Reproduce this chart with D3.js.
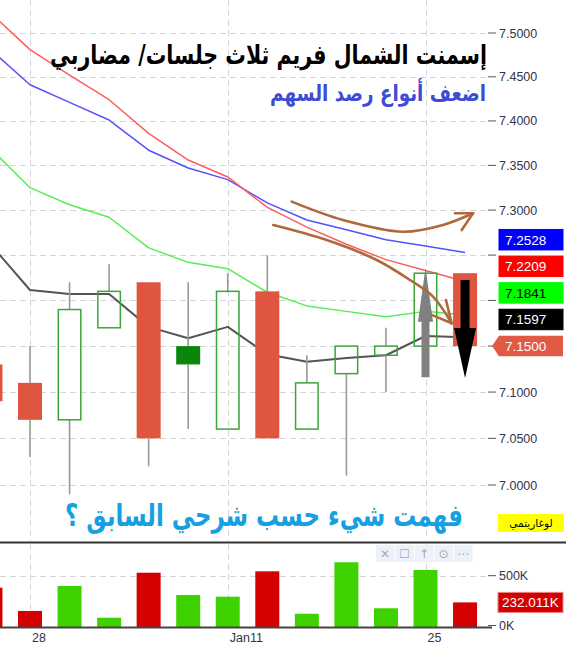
<!DOCTYPE html>
<html>
<head>
<meta charset="utf-8">
<script src="https://cdn.jsdelivr.net/npm/d3@7"></script>
<style>
html, body { margin: 0; padding: 0; background: #fff; }
svg { display: block; }
</style>
</head>
<body>
<div id="chart"></div>
<script>
// 3-session candles, index 0 is the one cut off at the left edge
var tickLabels = ["", "28", "", "", "", "", "Jan11", "", "", "", "", "25", ""];
var opens   = [7.13, 7.11, 7.07, 7.17, 7.22, 7.15, 7.06, 7.21, 7.06, 7.12, 7.14, 7.15, 7.23];
var highs   = [7.14, 7.15, 7.22, 7.24, 7.22, 7.22, 7.23, 7.25, 7.14, 7.15, 7.17, 7.23, 7.23];
var lows    = [7.08, 7.03, 6.99, 7.17, 7.02, 7.06, 7.06, 7.05, 7.06, 7.01, 7.10, 7.15, 7.15];
var closes  = [7.09, 7.07, 7.19, 7.21, 7.05, 7.13, 7.21, 7.05, 7.11, 7.15, 7.15, 7.23, 7.15];
var volumes = [380, 146, 397, 78, 530, 306, 289, 544, 118, 635, 173, 557, 232.011]; // in K

// moving averages
var maBlack = [7.262, 7.2115, 7.207, 7.207, 7.171, 7.1585, 7.171, 7.141, 7.133, 7.137, 7.140, 7.161, 7.1597];
var maGreen = [7.369, 7.325, 7.306, 7.292, 7.258, 7.242, 7.235, 7.209, 7.194, 7.188, 7.182, 7.188, 7.1841];
var maRed   = [7.523, 7.481, 7.452, 7.424, 7.386, 7.356, 7.337, 7.303, 7.281, 7.262, 7.245, 7.233, 7.2209];
var maBlue  = [7.481, 7.441, 7.421, 7.401, 7.367, 7.347, 7.334, 7.308, 7.289, 7.278, 7.267, 7.260, 7.2528];

var priceTicks  = [7.0, 7.05, 7.1, 7.15, 7.2, 7.25, 7.3, 7.35, 7.4, 7.45, 7.5];
var volumeTicks = [0, 500];

// hand drawn annotations, in [candle index, price]
var arrowTop    = [[7.617, 7.3094], [8.914, 7.2889], [10.431, 7.2759], [11.443, 7.2834], [12.201, 7.2964]];
var arrowTopBarbs = [[11.746, 7.2964], [11.915, 7.2778]];
var arrowLow    = [[7.152, 7.2834], [8.502, 7.2667], [9.766, 7.2446], [10.608, 7.2225], [11.190, 7.2042], [11.662, 7.1749]];
var arrowLowBarbs = [[11.518, 7.2005], [11.157, 7.1841]];

var width = 566, height = 669;
var plotRight = 490;
var mainBottom = 541, volTop = 544;

var svg = d3.select("#chart").append("svg")
    .attr("width", width).attr("height", height);

var x = d3.scaleLinear().domain([1, 11]).range([30, 425.5]);
var y = d3.scaleLog().domain([7.0, 7.5]).range([485, 33]);
var yVol = d3.scaleLinear().domain([0, 500]).range([625.5, 575.7]);

var upColor = "#3aa53a", downGreen = "#0a870a", redColor = "#e05540";
var fmt4 = d3.format(".4f");

var defs = svg.append("defs");
defs.append("clipPath").attr("id", "clipMain").append("rect")
    .attr("x", 0).attr("y", 0).attr("width", plotRight).attr("height", mainBottom);
defs.append("clipPath").attr("id", "clipVol").append("rect")
    .attr("x", 0).attr("y", volTop).attr("width", plotRight).attr("height", 627 - volTop);

var idx = d3.range(opens.length);
var last = opens.length - 1;

// last value badges on the price axis
var badges = [
    { v: maBlue[last], fill: "#0000ff", text: "#fff" },
    { v: maRed[last], fill: "#ff0000", text: "#fff" },
    { v: maGreen[last], fill: "#00ff00", text: "#000" },
    { v: maBlack[last], fill: "#000000", text: "#fff" },
    { v: closes[last], fill: "#e05a45", text: "#fff", pointer: true }
];
var badgeH = 20.5, badgeGap = 26.6;
// stack upward from the last price so they don't overlap
var badgePos = [];
for (var k = badges.length - 1; k >= 0; k--) {
    var want = y(badges[k].v);
    badgePos[k] = k === badges.length - 1 ? want : Math.min(want, badgePos[k + 1] - badgeGap);
}

/**
 * grid lines for both panes
 */
function drawGrid() {
    var g = svg.append("g").attr("class", "grid")
        .attr("stroke", "#d6d6d6").attr("stroke-dasharray", "6,4").attr("stroke-width", 1);
    g.selectAll("line.h").data(priceTicks).enter().append("line").attr("class", "h")
        .attr("x1", 0).attr("x2", plotRight - 2)
        .attr("y1", function (d) { return Math.round(y(d)) + 0.5; })
        .attr("y2", function (d) { return Math.round(y(d)) + 0.5; });
    g.append("line")
        .attr("x1", 0).attr("x2", plotRight - 2)
        .attr("y1", Math.round(yVol(500)) + 0.5).attr("y2", Math.round(yVol(500)) + 0.5);
    var vx = idx.filter(function (i) { return tickLabels[i] !== ""; });
    g.selectAll("line.v").data(vx).enter().append("line").attr("class", "v")
        .attr("x1", function (i) { return Math.round(x(i)) + 0.5; })
        .attr("x2", function (i) { return Math.round(x(i)) + 0.5; })
        .attr("y1", 0).attr("y2", mainBottom);
    g.selectAll("line.v2").data(vx).enter().append("line").attr("class", "v2")
        .attr("x1", function (i) { return Math.round(x(i)) + 0.5; })
        .attr("x2", function (i) { return Math.round(x(i)) + 0.5; })
        .attr("y1", volTop).attr("y2", 627);
}

function drawMA(values, color, w) {
    var line = d3.line()
        .x(function (d, i) { return x(i); })
        .y(function (d) { return y(d); });
    svg.append("path").attr("clip-path", "url(#clipMain)")
        .attr("d", line(values))
        .attr("fill", "none").attr("stroke", color).attr("stroke-width", w)
        .attr("stroke-linejoin", "round");
}

/**
 * hollow candles: hollow when close > open,
 * green when close >= previous close
 */
function drawCandles() {
    var g = svg.append("g").attr("clip-path", "url(#clipMain)");
    var bw = 24;
    idx.forEach(function (i) {
        var o = opens[i], c = closes[i];
        var prev = i > 0 ? closes[i - 1] : 7.2;
        var up = c >= prev;
        var hollow = c > o;
        var top = y(Math.max(o, c)), bot = y(Math.min(o, c));
        var cx = x(i);
        if (highs[i] > Math.max(o, c)) {
            g.append("line").attr("x1", cx).attr("x2", cx)
                .attr("y1", y(highs[i])).attr("y2", top)
                .attr("stroke", "#9a9a9a").attr("stroke-width", 1.6);
        }
        if (lows[i] < Math.min(o, c)) {
            g.append("line").attr("x1", cx).attr("x2", cx)
                .attr("y1", bot).attr("y2", y(lows[i]))
                .attr("stroke", "#9a9a9a").attr("stroke-width", 1.6);
        }
        var col = up ? (hollow ? upColor : downGreen) : redColor;
        if (hollow) {
            g.append("rect").attr("x", cx - bw / 2 + 0.75).attr("y", top)
                .attr("width", bw - 1.5).attr("height", bot - top)
                .attr("fill", "none").attr("stroke", col).attr("stroke-width", 1.5);
        } else {
            g.append("rect").attr("x", cx - bw / 2).attr("y", top)
                .attr("width", bw).attr("height", Math.max(1, bot - top))
                .attr("fill", col);
        }
    });
}

function drawVolume() {
    var g = svg.append("g").attr("clip-path", "url(#clipVol)");
    g.selectAll("rect").data(volumes).enter().append("rect")
        .attr("x", function (d, i) { return x(i) - 12; })
        .attr("width", 24)
        .attr("y", function (d) { return yVol(d); })
        .attr("height", function (d) { return 627 - yVol(d); })
        .attr("fill", function (d, i) { return closes[i] >= (i > 0 ? closes[i - 1] : 7.2) ? "#3ed200" : "#d50000"; });
    // baseline
    svg.append("line").attr("x1", 0).attr("x2", plotRight + 2)
        .attr("y1", 627.5).attr("y2", 627.5)
        .attr("stroke", "#444").attr("stroke-width", 2);
}

function coveredByBadge(py) {
    return badgePos.some(function (b) { return Math.abs(b - py) < badgeH / 2 + 5; });
}

function drawAxes() {
    var g = svg.append("g").attr("font-family", "Liberation Sans, Arial, sans-serif")
        .attr("font-size", 12.5).attr("fill", "#33334a");
    priceTicks.forEach(function (t) {
        g.append("line").attr("x1", plotRight - 2).attr("x2", plotRight + 6)
            .attr("y1", y(t)).attr("y2", y(t)).attr("stroke", "#555").attr("stroke-width", 1);
        // labels under the value badges are hidden by them
        if (coveredByBadge(y(t))) return;
        g.append("text").attr("x", 499).attr("y", y(t)).attr("dy", "0.36em").text(fmt4(t));
    });
    volumeTicks.forEach(function (t) {
        g.append("line").attr("x1", plotRight - 2).attr("x2", plotRight + 6)
            .attr("y1", yVol(t)).attr("y2", yVol(t)).attr("stroke", "#555").attr("stroke-width", 1);
        g.append("text").attr("x", 499).attr("y", yVol(t)).attr("dy", "0.36em").text(t + "K");
    });
    idx.forEach(function (i) {
        if (tickLabels[i] === "") return;
        g.append("text").attr("x", x(i) + 2).attr("y", 637).attr("dy", "0.36em").text(tickLabels[i]);
    });
    // pane separator
    svg.append("line").attr("x1", 0).attr("x2", width).attr("y1", 542.5).attr("y2", 542.5)
        .attr("stroke", "#333").attr("stroke-width", 2.2);
}

function drawBadges() {
    var h = badgeH;
    var g = svg.append("g").attr("font-family", "Liberation Sans, Arial, sans-serif").attr("font-size", 13.5);
    badges.forEach(function (b, k) {
        var cy = badgePos[k];
        if (b.pointer) {
            g.append("path")
                .attr("d", "M492," + cy + "L499," + (cy - h / 2) + "L563," + (cy - h / 2) +
                    "L563," + (cy + h / 2) + "L499," + (cy + h / 2) + "Z")
                .attr("fill", b.fill);
        } else {
            g.append("rect").attr("x", 499).attr("y", cy - h / 2).attr("width", 64).attr("height", h)
                .attr("fill", b.fill).attr("stroke", d3.color(b.fill).brighter(0.6)).attr("stroke-width", 1);
        }
        g.append("text").attr("x", 505).attr("y", cy).attr("dy", "0.36em")
            .attr("fill", b.text).text(fmt4(b.v));
    });
    // volume badge
    var vl = volumes[volumes.length - 1];
    g.append("rect").attr("x", 498).attr("y", yVol(vl) - 10).attr("width", 65).attr("height", 20)
        .attr("fill", "#d40000").attr("stroke", "#f08080").attr("stroke-width", 1);
    g.append("text").attr("x", 502).attr("y", yVol(vl)).attr("dy", "0.36em")
        .attr("fill", "#fff").attr("font-size", 13.5).text(d3.format(".3f")(vl) + "K");
    // log scale badge
    svg.append("rect").attr("x", 498).attr("y", 514).attr("width", 66).attr("height", 18).attr("fill", "#ffff00");
    svg.append("text").attr("x", 531).attr("y", 523).attr("dy", "0.36em")
        .attr("text-anchor", "middle").attr("direction", "rtl")
        .attr("font-family", "DejaVu Sans, sans-serif").attr("font-size", 10.5).attr("fill", "#000")
        .text("لوغاريتمي");
}

function drawToolbar() {
    var icons = ["✕", "☐", "↑", "⊙", "⋯"];
    var g = svg.append("g");
    icons.forEach(function (ic, k) {
        var cx = 385 + k * 19.5;
        g.append("rect").attr("x", cx - 9).attr("y", 545).attr("width", 18.5).attr("height", 17)
            .attr("fill", "#edf2fa");
        g.append("text").attr("x", cx).attr("y", 553.5).attr("dy", "0.36em").attr("text-anchor", "middle")
            .attr("font-family", "DejaVu Sans, sans-serif").attr("font-size", 12).attr("fill", "#a3a9b5")
            .text(ic);
    });
}

function drawBlockArrow(i, fromPrice, toPrice, headLen, hw, sw, color) {
    var cx = x(i), yTail = y(fromPrice), yTip = y(toPrice);
    var dir = yTip > yTail ? 1 : -1;
    var yBase = yTip - dir * headLen;
    var pts = [[cx - sw, yTail], [cx + sw, yTail], [cx + sw, yBase], [cx + hw, yBase],
        [cx, yTip], [cx - hw, yBase], [cx - sw, yBase]];
    svg.append("path").attr("d", d3.line()(pts) + "Z").attr("fill", color);
}

function drawHandArrow(points, barbs) {
    var line = d3.line()
        .x(function (d) { return x(d[0]); })
        .y(function (d) { return y(d[1]); })
        .curve(d3.curveCatmullRom);
    var g = svg.append("g").attr("fill", "none").attr("stroke", "#b0683c")
        .attr("stroke-width", 2.6).attr("stroke-linecap", "round");
    g.append("path").attr("d", line(points));
    var tip = points[points.length - 1];
    barbs.forEach(function (b) {
        g.append("path").attr("d", d3.line()
            .x(function (d) { return x(d[0]); })
            .y(function (d) { return y(d[1]); })([tip, b]));
    });
}

// fit the width, then stretch the glyphs vertically around the baseline
function fitText(sel, w, stretch) {
    var cur = sel.node().getComputedTextLength();
    var fs = parseFloat(sel.attr("font-size"));
    sel.attr("font-size", fs * w / cur);
    var by = +sel.attr("y");
    sel.attr("transform", "translate(0," + by + ") scale(1," + stretch + ") translate(0," + (-by) + ")");
}

function drawTexts() {
    var t1 = svg.append("text").attr("x", 268.5).attr("y", 64)
        .attr("text-anchor", "middle").attr("direction", "rtl")
        .attr("font-family", "DejaVu Sans, sans-serif").attr("font-weight", "bold")
        .attr("font-size", 24).attr("fill", "#000")
        .text("إسمنت الشمال فريم  ثلاث جلسات/ مضاربي");
    fitText(t1, 437, 1.3);
    var t2 = svg.append("text").attr("x", 378).attr("y", 101)
        .attr("text-anchor", "middle").attr("direction", "rtl")
        .attr("font-family", "DejaVu Sans, sans-serif").attr("font-weight", "bold")
        .attr("font-size", 20).attr("fill", "#3d4cd4")
        .text("اضعف أنواع رصد السهم");
    fitText(t2, 216, 1.25);
    var t3 = svg.append("text").attr("x", 264).attr("y", 526)
        .attr("text-anchor", "middle").attr("direction", "rtl")
        .attr("font-family", "DejaVu Sans, sans-serif").attr("font-weight", "bold")
        .attr("font-size", 28).attr("fill", "#14a0e2")
        .text("فهمت شيء حسب شرحي السابق ؟");
    fitText(t3, 398, 1.35);
}

drawGrid();
drawMA(maGreen, "#55ee55", 1.5);
drawMA(maBlue, "#5252ff", 1.5);
drawMA(maRed, "#ff5c5c", 1.5);
drawMA(maBlack, "#555555", 2);
drawCandles();
drawVolume();
drawAxes();
drawBlockArrow(11, 7.116, 7.236, 54, 7.5, 4, "#808080");
drawBlockArrow(12, 7.2225, 7.1152, 50, 11, 4.5, "#000000");
drawHandArrow(arrowTop, arrowTopBarbs);
drawHandArrow(arrowLow, arrowLowBarbs);
drawBadges();
drawToolbar();
drawTexts();
</script>
</body>
</html>
